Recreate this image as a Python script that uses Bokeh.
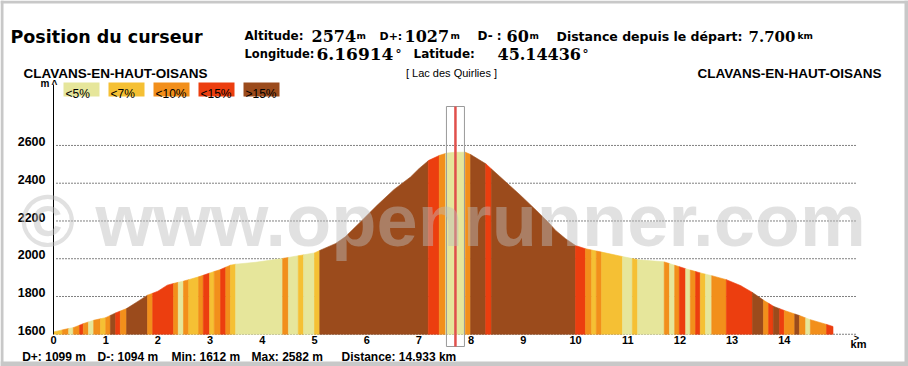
import numpy as np
from bokeh.plotting import figure
from bokeh.models import Range1d, LinearAxis, FixedTicker, Label
from bokeh.embed import file_html
from bokeh.resources import INLINE

# ---------------- data ----------------
PROFILE_KM = [0.00, 0.20, 0.39, 0.58, 0.77, 1.00, 1.19, 1.40, 1.60, 1.80, 1.89, 2.00, 2.18, 2.30,
              2.50, 2.78, 3.00, 3.20, 3.39, 3.49, 3.87, 4.38, 4.76, 5.00, 5.11, 5.40, 5.59, 5.88,
              6.20, 6.52, 6.84, 7.00, 7.19, 7.40, 7.54, 7.70, 7.89, 7.99, 8.28, 8.56, 8.95, 9.25,
              9.50, 9.62, 9.81, 10.00, 10.19, 10.50, 10.89, 11.21, 11.69, 11.85, 12.11, 12.39,
              12.60, 12.89, 13.16, 13.38, 13.61, 13.80, 14.00, 14.29, 14.50, 14.81, 14.933]
PROFILE_M = [1612, 1625, 1636, 1657, 1674, 1688, 1713, 1736, 1771, 1807, 1816, 1828, 1860, 1869,
             1882, 1904, 1925, 1943, 1966, 1971, 1981, 2001, 2019, 2031, 2045, 2080, 2116, 2195,
             2283, 2366, 2433, 2477, 2521, 2548, 2560, 2564, 2564, 2552, 2503, 2433, 2335, 2256,
             2187, 2150, 2106, 2070, 2053, 2035, 2012, 1994, 1984, 1970, 1947, 1925,
             1911, 1889, 1858, 1823, 1779, 1747, 1726, 1699, 1677, 1652, 1641]

# slope-class segments: boundaries (km) and class index per segment
BOUNDS_KM = [0.0, 0.17, 0.29, 0.38, 0.50, 0.57, 0.67, 0.77, 0.90, 1.00, 1.09, 1.19, 1.28, 1.40,
             1.80, 1.90, 2.30, 2.39, 2.49, 2.59, 2.78, 2.87, 2.99, 3.08, 3.20, 3.30, 3.39, 3.49,
             4.39, 4.50, 4.69, 4.79, 5.00, 5.10, 7.18, 7.39, 7.51, 7.89, 7.99, 8.28, 8.39, 10.00,
             10.19, 10.31, 10.40, 10.50, 10.90, 11.09, 11.19, 11.70, 11.80, 11.90, 11.99, 12.11,
             12.20, 12.30, 12.39, 12.49, 12.61, 12.89, 13.39, 13.60, 13.70, 13.79, 13.91, 14.00,
             14.20, 14.29, 14.41, 14.50, 14.81, 14.933]
SEG_CLASS = [1, 2, 0, 2, 3, 2, 0, 2, 1, 2, 4, 3, 2, 4, 2, 3, 2, 0, 2, 1, 2, 3, 1, 2, 3, 2, 1,
             0, 2, 0, 1, 0, 1, 4, 3, 2, 0, 2, 4, 3, 4, 3, 2, 1, 2, 1, 0, 1, 0, 2, 0, 2, 3, 0,
             2, 3, 1, 0, 2, 3, 4, 2, 3, 4, 3, 2, 4, 2, 0, 2, 3]
CLASS_LABELS = ["<5%", "<7%", "<10%", "<15%", ">15%"]
CLASS_COLORS = ["#E6E69B", "#F5C034", "#F28F1B", "#EC3E0F", "#9B4B1C"]

Y_TICKS = [1600, 1800, 2000, 2200, 2400, 2600]
X_TICKS = list(range(0, 15))

CURSOR_KM = 7.700
CUR_ALT = 2574
CUR_DPLUS = 1027
CUR_DMINUS = 60
CUR_LON = "6.16914"
CUR_LAT = "45.14436"
TOT_DPLUS = 1099
TOT_DMINUS = 1094
ALT_MIN = 1612
ALT_MAX = 2582
TOT_DIST = "14.933"
START_NAME = "CLAVANS-EN-HAUT-OISANS"
END_NAME = "CLAVANS-EN-HAUT-OISANS"
POI_NAME = "[ Lac des Quirlies ]"

# ---------------- layout ----------------
W, H = 908, 366
X0, SX = 53.0, 52.2        # px of km 0, px per km
Y0, SY = 333.75, 0.1888    # px of 1600 m, px per m


def kx(px):
    return (px - X0) / SX


def my(py):
    return 1600 + (Y0 - py) / SY


p = figure(width=W, height=H, output_backend="svg", toolbar_location=None, title=None,
           x_range=Range1d(kx(0), kx(W)), y_range=Range1d(my(H), my(0)),
           x_axis_location=None, y_axis_location=None, min_border=0)
p.min_border_left = p.min_border_right = p.min_border_top = p.min_border_bottom = 0
p.outline_line_color = None
p.background_fill_color = "white"
p.border_fill_color = "white"
for g in p.grid:
    g.visible = False

# axes (label ticks nudged so that labels sit just above their grid line)
LBL_SHIFT = 21
yax = LinearAxis(fixed_location=0, ticker=FixedTicker(ticks=[v + LBL_SHIFT for v in Y_TICKS]),
                 bounds=(1600, my(84)))
yax.major_label_overrides = {v + LBL_SHIFT: str(v) for v in Y_TICKS}
yax.axis_line_color = "black"
yax.major_tick_line_color = None
yax.minor_tick_line_color = None
yax.major_tick_out = 0
yax.major_tick_in = 0
yax.major_label_standoff = 8
yax.major_label_text_font = "Liberation Sans"
yax.major_label_text_font_style = "bold"
yax.major_label_text_font_size = "12.5px"
yax.major_label_text_color = "black"
p.add_layout(yax, "left")

xax = LinearAxis(fixed_location=1600, ticker=FixedTicker(ticks=X_TICKS))
xax.axis_line_color = None
xax.major_tick_line_color = None
xax.minor_tick_line_color = None
xax.major_tick_out = 0
xax.major_tick_in = 0
xax.major_label_standoff = 2
xax.major_label_text_font = "Liberation Sans"
xax.major_label_text_font_style = "bold"
xax.major_label_text_font_size = "11px"
xax.major_label_text_color = "black"
p.add_layout(xax, "below")

# dotted grid lines
n = len(Y_TICKS)
p.segment(x0=[kx(56)] * n, y0=Y_TICKS, x1=[kx(855)] * n, y1=Y_TICKS,
          line_color="black", line_dash="1 2", line_width=1)

# profile coloured by slope class
pk = np.array(PROFILE_KM, dtype=float)
pm = np.array(PROFILE_M, dtype=float)
xs, ys, cols = [], [], []
for a, b, c in zip(BOUNDS_KM[:-1], BOUNDS_KM[1:], SEG_CLASS):
    inner = [v for v in pk if a < v < b]
    xx = [a] + inner + [b]
    yy = list(np.interp(xx, pk, pm))
    xs.append([a] + xx + [b])
    ys.append([1600.0] + yy + [1600.0])
    cols.append(CLASS_COLORS[c])
p.patches(xs, ys, fill_color=cols, line_color=cols, line_width=0.6)

# legend boxes
LEG_LEFT_PX = [63, 108, 153, 198, 243]
LEG_W = 36
p.quad(left=[kx(v) for v in LEG_LEFT_PX], right=[kx(v + LEG_W) for v in LEG_LEFT_PX],
       top=my(82), bottom=my(96), fill_color=CLASS_COLORS, line_color=None)

# outer grey frame of the widget
p.quad(left=[kx(0), kx(0), kx(904), kx(0)], right=[kx(908), kx(3), kx(908), kx(908)],
       top=[my(0), my(0), my(0), my(361)], bottom=[my(3), my(366), my(366), my(366)],
       fill_color="#c8c8c8", line_color=None)


def txt(px, py, text, size, font="DejaVu Sans", style="bold", align="left",
        baseline="alphabetic", color="black", alpha=1.0):
    p.add_layout(Label(x=kx(px), y=my(py), text=text, text_font=font, text_font_style=style,
                       text_font_size=size, text_align=align, text_baseline=baseline,
                       text_color=color, text_alpha=alpha))


for lx, lab in zip(LEG_LEFT_PX, CLASS_LABELS):
    txt(lx + 2, 93.5, lab, "12px", font="Liberation Sans", style="normal")

# cursor
half = 9 / SX
p.quad(left=CURSOR_KM - half, right=CURSOR_KM + half, top=my(106), bottom=my(346),
       fill_color=None, line_color="#9a9a9a", line_width=1)
p.segment(x0=[CURSOR_KM], y0=[my(346)], x1=[CURSOR_KM], y1=[my(106)],
          line_color="#E0504C", line_width=2.5)

# watermark
txt(20, 220, "\u00a9 www.openrunner.com", "74px", font="Liberation Sans",
    color="#bdbdbd", alpha=0.45)

# header
txt(10, 36, "Position du curseur", "17.5px")
L1, L2 = 35.5, 53
txt(244, L1, "Altitude:", "12px")
txt(311, L1, str(CUR_ALT), "16px", font="DejaVu Serif")
txt(356, L1, "m", "9px")
txt(379, L1, "D+:", "11px")
txt(404, L1, str(CUR_DPLUS), "16px", font="DejaVu Serif")
txt(450, L1, "m", "9px")
txt(477, L1, "D- :", "12px")
txt(506, L1, str(CUR_DMINUS), "16px", font="DejaVu Serif")
txt(529, L1, "m", "9px")
txt(556, L1, "Distance depuis le d\u00e9part:", "12.5px")
txt(748, L1, f"{CURSOR_KM:.3f}", "15px", font="DejaVu Serif")
txt(797, L1, "km", "9px")
txt(244, L2, "Longitude:", "11.5px")
txt(316, L2, CUR_LON, "17px", font="DejaVu Serif")
txt(395, L2, "\u00b0", "12px")
txt(413, L2, "Latitude:", "12px")
txt(497, L2, CUR_LAT, "16px", font="DejaVu Serif")
txt(582, L2, "\u00b0", "12px")

txt(23, 73, START_NAME, "13.5px", font="Liberation Sans")
txt(881, 73, END_NAME, "13.5px", font="Liberation Sans", align="right")
txt(451, 72.5, POI_NAME, "11px", font="Liberation Sans", style="normal", align="center")

# axis decorations
txt(40, 82.5, "m", "10px", font="Liberation Sans")
txt(54, 84, "^", "10px", font="Liberation Sans", align="center")
txt(856, 337, ">", "9px", font="Liberation Sans", align="center")
txt(858, 343.5, "km", "11px", font="Liberation Sans", align="center")

# bottom summary
BL = 356
txt(21.7, BL, f"D+: {TOT_DPLUS} m", "12px", font="Liberation Sans")
txt(97, BL, f"D-: {TOT_DMINUS} m", "12px", font="Liberation Sans")
txt(171, BL, f"Min: {ALT_MIN} m", "12px", font="Liberation Sans")
txt(251, BL, f"Max: {ALT_MAX} m", "12px", font="Liberation Sans")
txt(341, BL, f"Distance: {TOT_DIST} km", "12px", font="Liberation Sans")

open("out.html", "w").write(file_html(p, INLINE))
